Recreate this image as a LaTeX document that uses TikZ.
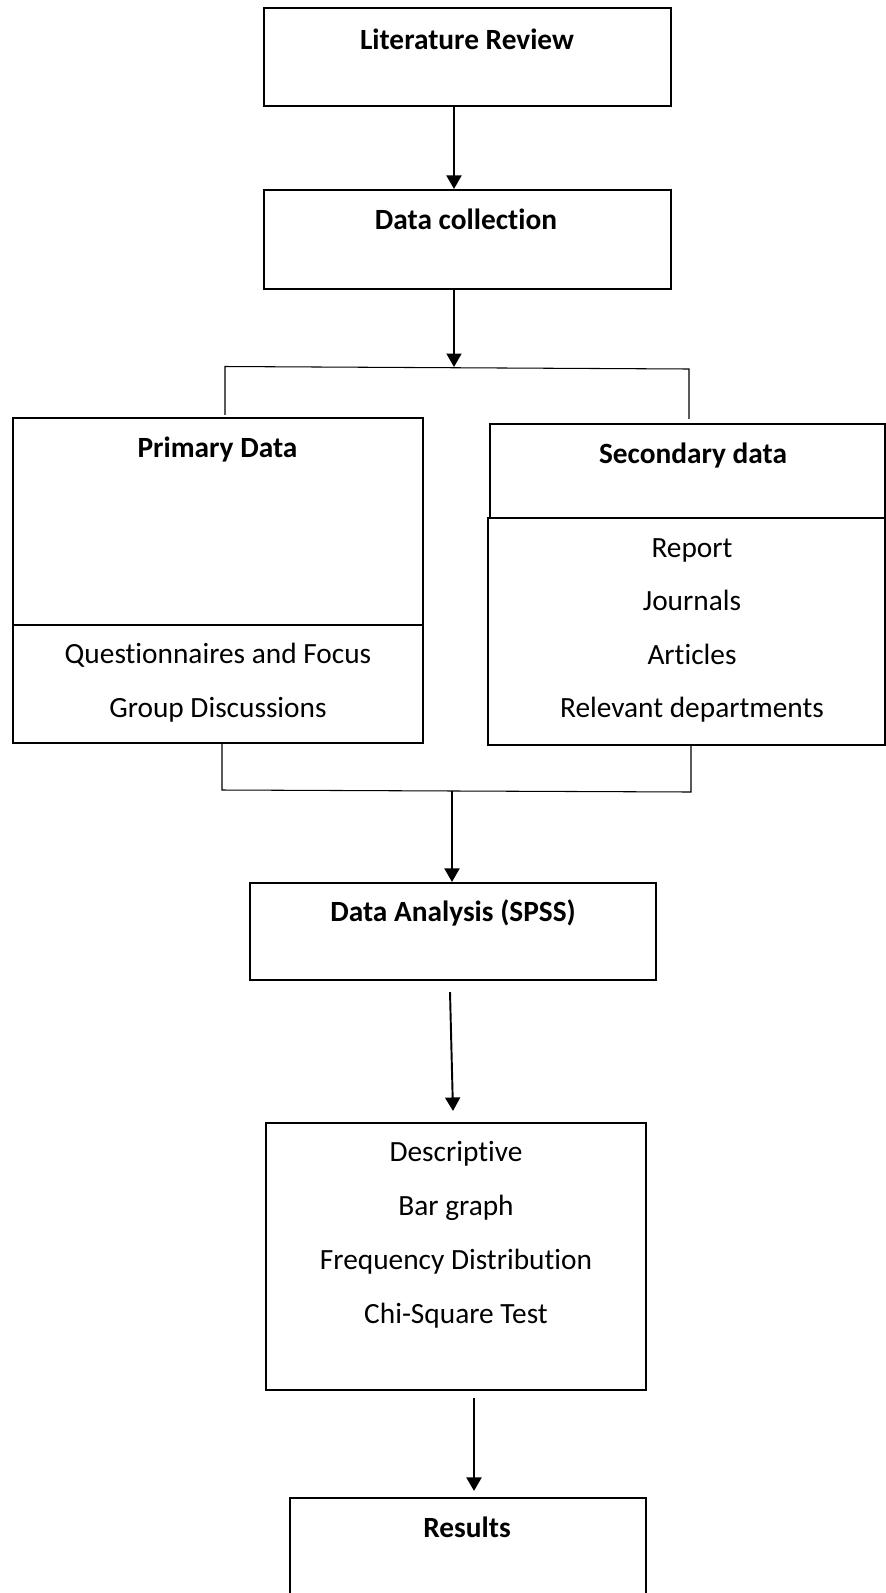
\documentclass[tikz,border=0pt]{standalone}
\usepackage{fontspec}
\setmainfont[Ligatures=NoCommon]{Carlito}
\usetikzlibrary{arrows.meta}

\begin{document}
\begin{tikzpicture}[>={Triangle[length=0.27cm,width=0.3cm]},
  box/.style={draw, line width=1.2pt, inner sep=0pt},
  txt/.style={font=\fontsize{16.7}{20}\selectfont, inner sep=0pt, text height=12pt, text depth=1pt},
  head/.style={txt, font=\fontsize{16.7}{20}\selectfont\bfseries},
  arr/.style={->, line width=1.1pt},
  link/.style={line width=0.6pt}]
\useasboundingbox (0,0) rectangle (17.72,-31.86);
\clip (0,0) rectangle (17.72,-31.86);
% boxes
\node[box, minimum width=8.14cm, minimum height=1.96cm] (lit) at (9.35,-1.14) {};
\node[box, minimum width=8.14cm, minimum height=1.98cm] (dc) at (9.35,-4.79) {};
\node[box, minimum width=8.2cm, minimum height=4.14cm] (primT) at (4.36,-10.43) {};
\node[box, minimum width=8.2cm, minimum height=2.36cm] (primL) at (4.36,-13.68) {};
\node[box, minimum width=7.9cm, minimum height=1.88cm] (secT) at (13.75,-9.42) {};
\node[box, minimum width=7.94cm, minimum height=4.54cm] (secL) at (13.73,-12.63) {};
\node[box, minimum width=8.12cm, minimum height=1.94cm] (da) at (9.06,-18.63) {};
\node[box, minimum width=7.6cm, minimum height=5.34cm] (desc) at (9.12,-25.13) {};
\node[box, minimum width=7.12cm, minimum height=3.04cm] (res) at (9.36,-31.48) {};
% titles
\node[head] (litT) at (9.34,-0.80) {Literature Review};
\node[head] (dcT) at (9.32,-4.39) {Data collection};
\node[head] (primH) at (4.35,-8.96) {Primary Data};
\node[head] (secH) at (13.86,-9.08) {Secondary data};
\node[head] (daT) at (9.06,-18.24) {Data Analysis (SPSS)};
\node[head] (resT) at (9.34,-30.56) {Results};
% list entries
\foreach \n/\y/\t in {q1/-13.08/Questionnaires and Focus, q2/-14.16/Group Discussions}
  {\node[txt] (\n) at (4.36,\y) {\t};}
\foreach \n/\y/\t in {s1/-10.96/Report, s2/-12.02/Journals, s3/-13.10/Articles, s4/-14.16/Relevant departments}
  {\node[txt] (\n) at (13.84,\y) {\t};}
\foreach \n/\y/\t in {d1/-23.04/Descriptive, d2/-24.12/Bar graph, d3/-25.20/Frequency Distribution, d4/-26.28/Chi-Square Test}
  {\node[txt] (\n) at (9.12,\y) {\t};}
% fork and join
\coordinate (fork) at (9.08,-7.34);
\coordinate (forkL) at (4.50,-7.33);
\coordinate (forkR) at (13.78,-7.38);
\coordinate (join) at (9.04,-15.82);
\coordinate (joinL) at (4.44,-15.80);
\coordinate (joinR) at (13.82,-15.84);
\draw[link] ([yshift=0.04cm]primT.north -| forkL) -- (forkL) -- (forkR) -- ([yshift=0.08cm]secT.north -| forkR);
\draw[link] (primL.south -| joinL) -- (joinL) -- (joinR) -- (secL.south -| joinR);
% arrows
\draw[arr] ([xshift=-0.27cm]lit.south) -- ([xshift=-0.27cm]dc.north);
\draw[arr] ([xshift=-0.27cm]dc.south) -- (fork);
\draw[arr] (join) -- (da.north -| join);
\draw[arr] ([shift={(-0.06,-0.22)}]da.south) -- ([shift={(-0.06,0.22)}]desc.north);
\draw[arr] ([shift={(0.36,-0.14)}]desc.south) -- ([shift={(0.12,0.12)}]res.north);
\end{tikzpicture}
\end{document}
